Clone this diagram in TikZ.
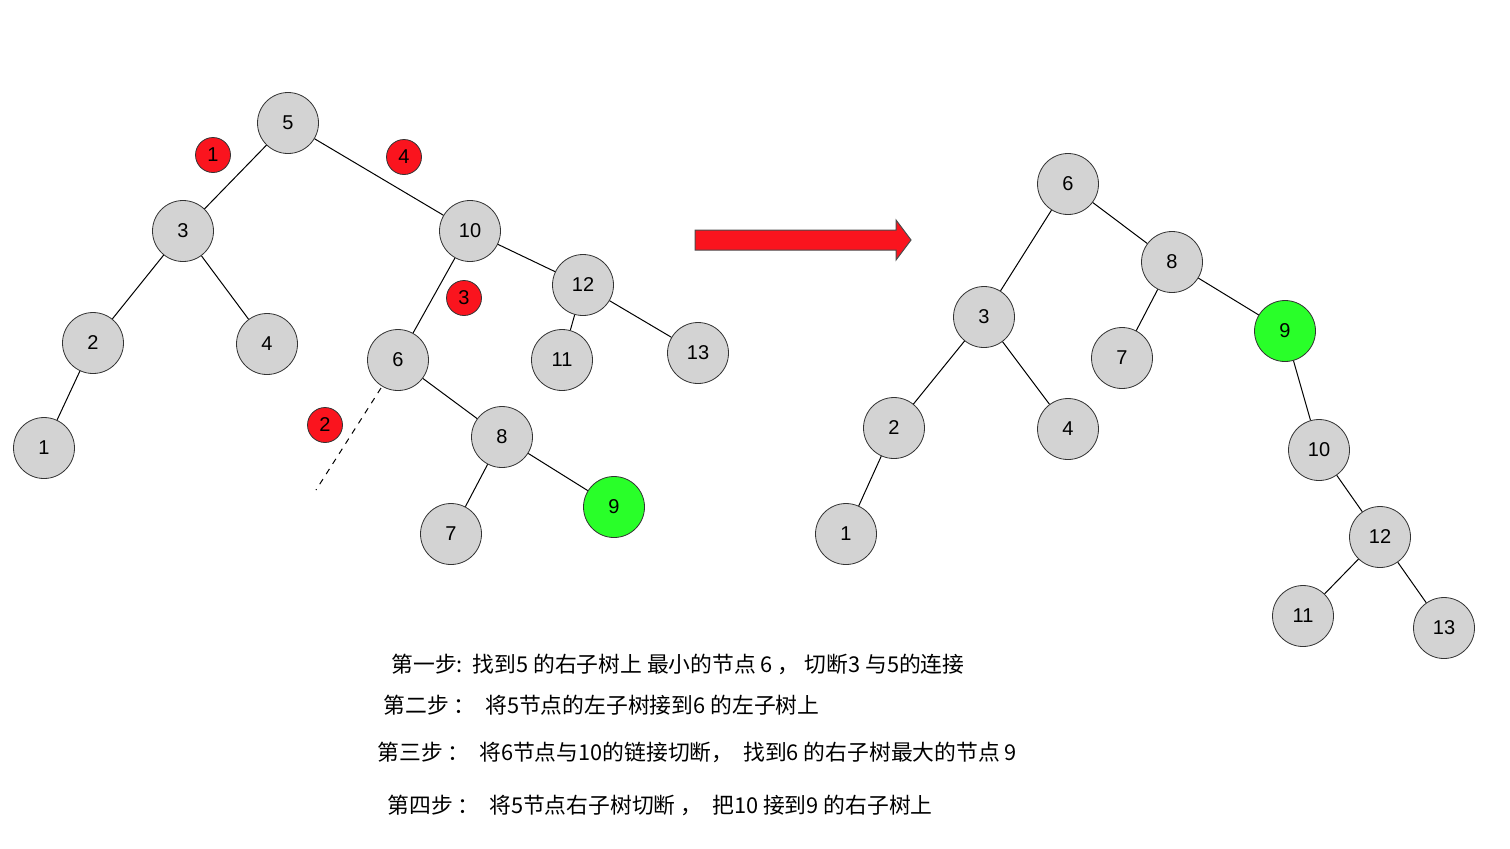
\documentclass[tikz,border=0pt]{standalone}
\usepackage{fontspec}
\setmainfont{Noto Sans CJK SC}
\newfontfamily\lsans{Liberation Sans}
\definecolor{ngray}{RGB}{211,211,211}
\definecolor{ngreen}{RGB}{41,255,41}
\definecolor{nred}{RGB}{250,20,30}
\begin{document}
\begin{tikzpicture}[x=0.5pt,y=-0.5pt,
  tn/.style={circle,draw=black!80,fill=ngray,minimum size=30.5pt,inner sep=0pt,font=\lsans\fontsize{10}{12}\selectfont},
  gn/.style={tn,fill=ngreen},
  rn/.style={circle,draw=black!80,fill=nred,minimum size=17.5pt,inner sep=0pt,font=\lsans\fontsize{10}{12}\selectfont},
  ed/.style={draw=black,line width=0.5pt},
  tx/.style={anchor=west,inner sep=0pt,font=\fontsize{10.9}{12}\selectfont}]
\useasboundingbox (0,0) rectangle (1510,848);
% left tree
\node[tn] (a5) at (288,123) {5};
\node[tn] (a3) at (183,231) {3};
\node[tn] (a10) at (470,231) {10};
\node[tn] (a2) at (93,343) {2};
\node[tn] (a4) at (267,344) {4};
\node[tn] (a1) at (44,448) {1};
\node[tn] (a12) at (583,285) {12};
\node[tn] (a6) at (398,360) {6};
\node[tn] (a11) at (562,360) {11};
\node[tn] (a13) at (698,353) {13};
\node[tn] (a8) at (502,437) {8};
\node[tn] (a7) at (451,534) {7};
\node[gn] (a9) at (614,507) {9};
\foreach \p/\c in {a5/a3,a5/a10,a3/a2,a3/a4,a2/a1,a10/a12,a10/a6,a12/a11,a12/a13,a6/a8,a8/a7,a8/a9}
  \draw[ed] (\p) -- (\c);
\node[rn] (r1) at (213,155) {1};
\node[rn] (r4) at (404,157) {4};
\node[rn] (r3) at (464,298) {3};
\node[rn] (r2) at (325,425) {2};
\coordinate (d1) at (381,388);
\coordinate (d2) at (316,490);
\draw[dashed,line width=0.5pt] (d1) -- (d2);
% arrow
\draw[draw=black!70,fill=nred,line width=0.5pt] (695,230) -- (896,230) -- (896,220) -- (911,240) -- (896,260) -- (896,250) -- (695,250) -- cycle;
% right tree
\node[tn] (b6) at (1068,184) {6};
\node[tn] (b8) at (1172,262) {8};
\node[tn] (b3) at (984,317) {3};
\node[tn] (b7) at (1122,358) {7};
\node[gn] (b9) at (1285,331) {9};
\node[tn] (b2) at (894,428) {2};
\node[tn] (b4) at (1068,429) {4};
\node[tn] (b1) at (846,534) {1};
\node[tn] (b10) at (1319,450) {10};
\node[tn] (b12) at (1380,537) {12};
\node[tn] (b11) at (1303,616) {11};
\node[tn] (b13) at (1444,628) {13};
\foreach \p/\c in {b6/b3,b6/b8,b8/b7,b8/b9,b3/b2,b3/b4,b2/b1,b9/b10,b10/b12,b12/b11,b12/b13}
  \draw[ed] (\p) -- (\c);
% texts
\node[tx] (t1) at (391,664) {第一步:\ \ 找到5 的右子树上 最小的节点 6 ， 切断3 与5的连接};
\node[tx] (t2) at (383,705) {第二步 ：\ \ 将5节点的左子树接到6 的左子树上};
\node[tx] (t3) at (377,752) {第三步 ：\ \ 将6节点与10的链接切断，\ \ 找到6 的右子树最大的节点 9};
\node[tx] (t4) at (387,805) {第四步 ：\ \ 将5节点右子树切断 ，\ \ 把10 接到9 的右子树上};
\end{tikzpicture}
\end{document}
